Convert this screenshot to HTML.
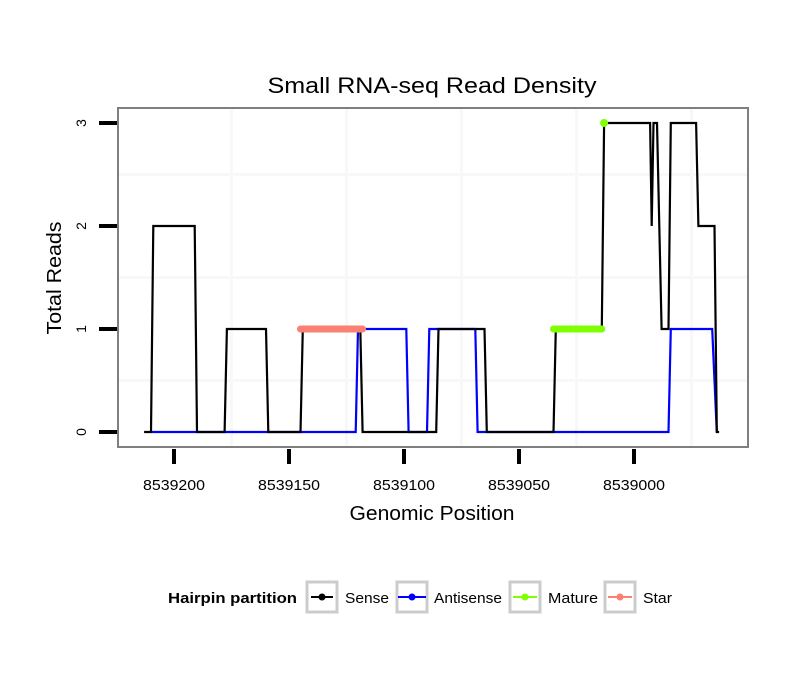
<!DOCTYPE html>
<html><head><meta charset="utf-8"><style>
body{margin:0;background:#fff;}
svg{display:block;font-family:"Liberation Sans",sans-serif;}
</style></head><body>
<svg id="chart" width="810" height="690" viewBox="0 0 810 690">
<text x="432" y="93" font-size="22" text-anchor="middle" textLength="329" lengthAdjust="spacingAndGlyphs">Small RNA-seq Read Density</text>
<rect x="118" y="108" width="630" height="339" fill="#fff" stroke="#7f7f7f" stroke-width="2"/>
<g id="grid"></g>
<g id="series"></g>
<g id="xaxis"></g>
<g id="yaxis"></g>
<text x="432" y="520" font-size="20" text-anchor="middle" textLength="165" lengthAdjust="spacingAndGlyphs">Genomic Position</text>
<text transform="translate(61,278) rotate(-90)" font-size="20" text-anchor="middle" textLength="113" lengthAdjust="spacingAndGlyphs">Total Reads</text>
<g>
<text x="168" y="603" font-size="15" font-weight="bold" textLength="129" lengthAdjust="spacingAndGlyphs">Hairpin partition</text>
<g>
<rect x="307" y="582" width="30" height="30" fill="#fff" stroke="#cccccc" stroke-width="3"/>
<line x1="311" y1="597" x2="333" y2="597" stroke="#000" stroke-width="2"/><circle cx="322" cy="597" r="3.5" fill="#000"/>
<text x="345" y="603" font-size="15" textLength="44" lengthAdjust="spacingAndGlyphs">Sense</text></g>
<g>
<rect x="397" y="582" width="30" height="30" fill="#fff" stroke="#cccccc" stroke-width="3"/>
<line x1="398" y1="597" x2="426" y2="597" stroke="#0000ff" stroke-width="2"/><circle cx="412" cy="597" r="3.5" fill="#0000ff"/>
<text x="434" y="603" font-size="15" textLength="68" lengthAdjust="spacingAndGlyphs">Antisense</text></g>
<g>
<rect x="510" y="582" width="30" height="30" fill="#fff" stroke="#cccccc" stroke-width="3"/>
<line x1="513" y1="597" x2="537" y2="597" stroke="#7fff00" stroke-width="2"/><circle cx="525" cy="597" r="3.5" fill="#7fff00"/>
<text x="548" y="603" font-size="15" textLength="50" lengthAdjust="spacingAndGlyphs">Mature</text></g>
<g>
<rect x="605" y="582" width="30" height="30" fill="#fff" stroke="#cccccc" stroke-width="3"/>
<line x1="608" y1="597" x2="632" y2="597" stroke="#fa8072" stroke-width="2"/><circle cx="620" cy="597" r="3.5" fill="#fa8072"/>
<text x="643" y="603" font-size="15" textLength="29" lengthAdjust="spacingAndGlyphs">Star</text></g>
</g>
</svg>
<script>
const xTicks=[8539200,8539150,8539100,8539050,8539000];
const yTicks=[0,1,2,3];
const senseX=[8539213,8539210,8539209,8539191,8539190,8539178,8539177,8539160,8539159,8539145,8539144,8539119,8539118,8539086,8539085,8539065,8539064,8539035,8539034,8539014,8539013,8538993,8538992.3,8538991.5,8538990,8538988,8538985,8538984,8538973,8538972,8538965,8538964,8538963];
const senseY=[0,0,2,2,0,0,1,1,0,0,1,1,0,0,1,1,0,0,1,1,3,3,2,3,3,1,1,3,3,2,2,0,0];
const antiX=[8539210,8539121,8539120,8539099,8539098,8539090,8539089,8539069,8539068,8538985,8538984,8538966,8538964];
const antiY=[0,0,1,1,0,0,1,1,0,0,1,1,0];
const starX=[8539145,8539118];
const starY=[1,1];
const matureX=[8539035,8539014];
const matureY=[1,1];
const maturePointX=[8539013];
const maturePointY=[3];

const NS='http://www.w3.org/2000/svg';
function xs(p){return 174+(8539200-p)*2.3;}
function ys(v){return 432-v*103;}
function mk(tag,attrs,parent){const e=document.createElementNS(NS,tag);for(const k in attrs)e.setAttribute(k,attrs[k]);parent.appendChild(e);return e;}
const grid=document.getElementById('grid'),ser=document.getElementById('series'),xa=document.getElementById('xaxis'),ya=document.getElementById('yaxis');
for(let i=0;i<xTicks.length+1;i++){const p=xTicks[0]+25-50*i;const x=xs(p);if(x<119||x>747)continue;
const l=mk('line',{x1:x,x2:x,y1:109,y2:446,stroke:'#f8f8f8','stroke-width':3},grid);

}
for(let i=0;i<yTicks.length-1;i++){const y=ys(yTicks[i]+0.5);
const l=mk('line',{x1:119,x2:747,y1:y,y2:y,stroke:'#f8f8f8','stroke-width':3},grid);

}
function pts(X,Y){return X.map((p,i)=>xs(p).toFixed(1)+','+ys(Y[i]).toFixed(1)).join(' ');}
let e;
e=mk('polyline',{points:pts(antiX,antiY),fill:'none',stroke:'#0000ff','stroke-width':2.2},ser);


e=mk('polyline',{points:pts(senseX,senseY),fill:'none',stroke:'#000','stroke-width':2.2},ser);


e=mk('polyline',{points:pts(starX,starY),fill:'none',stroke:'#fa8072','stroke-width':7,'stroke-linecap':'round'},ser);


e=mk('polyline',{points:pts(matureX,matureY),fill:'none',stroke:'#7fff00','stroke-width':7,'stroke-linecap':'round'},ser);


maturePointX.forEach((p,i)=>{const c=mk('circle',{cx:xs(p),cy:ys(maturePointY[i]),r:4,fill:'#7fff00'},ser);

});
xTicks.forEach(p=>{const x=xs(p);
const t=mk('line',{x1:x,x2:x,y1:449,y2:464,stroke:'#000','stroke-width':4},xa);


const l=mk('text',{x:x,y:490,'font-size':15,'text-anchor':'middle',textLength:62,lengthAdjust:'spacingAndGlyphs'},xa);l.textContent=p;

});
yTicks.forEach(v=>{const y=ys(v);
const t=mk('line',{x1:99,x2:117,y1:y,y2:y,stroke:'#000','stroke-width':4},ya);


const l=mk('text',{transform:`translate(86,${y}) rotate(-90)`,'font-size':14,'text-anchor':'middle'},ya);l.textContent=v;

});
</script>
</body></html>
